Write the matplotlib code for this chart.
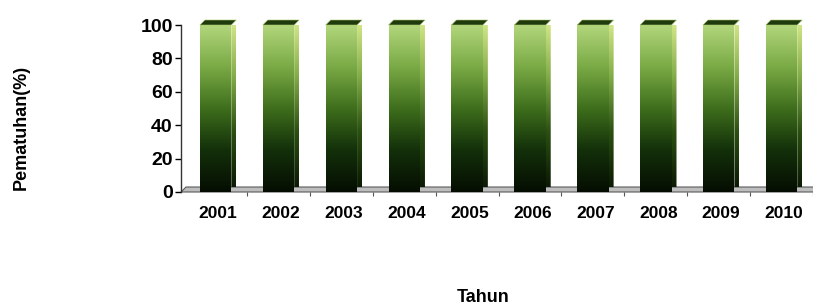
import matplotlib

matplotlib.use("Agg")
import matplotlib.pyplot as plt
import numpy as np
from matplotlib.colors import LinearSegmentedColormap
from matplotlib.patches import Polygon

years = ["2001", "2002", "2003", "2004", "2005", "2006", "2007", "2008", "2009", "2010"]
compliance = [100, 100, 100, 100, 100, 100, 100, 100, 100, 100]

W, H = 813, 305
fig = plt.figure(figsize=(W / 100, H / 100), dpi=100)
ax = fig.add_axes([181 / W, (H - 192) / H, 1 - 181 / W, (192 - 25) / H])

x = np.arange(len(years))
ax.set_xlim(-0.55, 9.5)
ax.set_ylim(0, 100)

# 3D offsets in data units (about 5 px)
dx = 5 / 63.0
dy = 5 / 167 * 100
bw = 0.5

front = LinearSegmentedColormap.from_list(
    "front", ["#050d02", "#13300a", "#3e6e1c", "#7aaa45", "#b2d67c"])
side = LinearSegmentedColormap.from_list(
    "side", ["#0b1a04", "#2c5012", "#83ad48", "#d8ea8c"])
grad = np.linspace(0, 1, 256).reshape(-1, 1)

# floor
ax.add_patch(Polygon([(-0.55, 0), (9.5, 0), (9.5 + dx, dy), (-0.55 + dx, dy)],
                     closed=True, facecolor="#bdbdbd", edgecolor="#5a5a5a",
                     lw=0.8, clip_on=False, zorder=1))

for xi, v in zip(x, compliance):
    l, r = xi - bw / 2, xi + bw / 2
    im = ax.imshow(grad, cmap=front, origin="lower", aspect="auto",
                   extent=(l, r, 0, v), zorder=3)
    im.set_clip_path(Polygon([(l, 0), (r, 0), (r, v), (l, v)],
                             transform=ax.transData))
    im2 = ax.imshow(grad, cmap=side, origin="lower", aspect="auto",
                    extent=(r, r + dx, dy, v + dy), zorder=3)
    im2.set_clip_path(Polygon([(r, 0), (r + dx, dy), (r + dx, v + dy), (r, v)],
                              transform=ax.transData))
    ax.add_patch(Polygon([(l, v), (r, v), (r + dx, v + dy), (l + dx, v + dy)],
                         closed=True, facecolor="#1f3a0c", edgecolor="#a8c86a",
                         lw=0.4, clip_on=False, zorder=4))

ax.set_xticks(x + 0.5)
ax.set_xticklabels([])
for xi, yr in zip(x, years):
    ax.text(xi + dx / 2, -0.13, yr, transform=ax.get_xaxis_transform(),
            ha="center", va="center", fontsize=12.5, fontweight="bold",
            family="Liberation Sans")
ax.tick_params(axis="x", length=3, color="#555555")
ax.set_yticks([0, 20, 40, 60, 80, 100])
ax.set_yticklabels(["0", "20", "40", "60", "80", "100"], fontsize=14,
                   fontweight="bold", family="Liberation Sans")
ax.tick_params(axis="y", length=4, width=1, pad=2)

for s in ["top", "right", "bottom"]:
    ax.spines[s].set_visible(False)
ax.spines["left"].set_linewidth(1)
ax.spines["left"].set_color("#333333")

fig.text(21 / W, 1 - 127 / H, "Pematuhan(%)", rotation=90, ha="center",
         va="center", fontsize=13, fontweight="bold", family="Liberation Sans")
fig.text(483 / W, 1 - 297 / H, "Tahun", ha="center", va="center",
         fontsize=13, fontweight="bold", family="Liberation Sans")

fig.savefig("out.png", dpi=100)
